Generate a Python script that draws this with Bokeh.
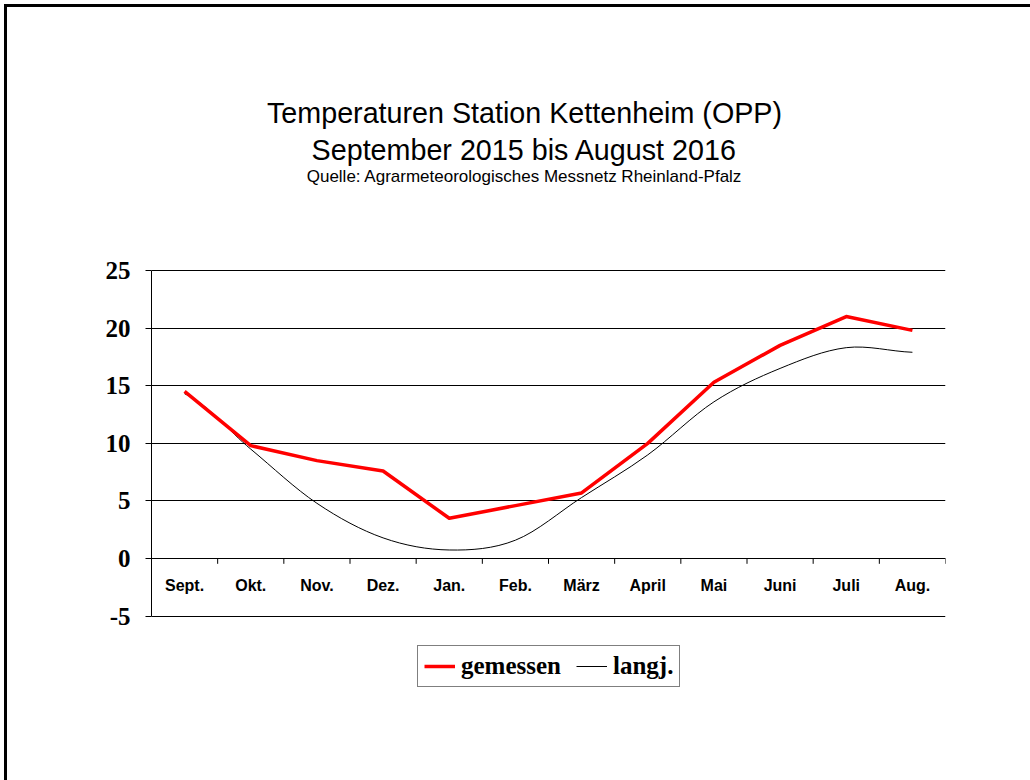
from bokeh.plotting import figure
from bokeh.models import FactorRange, Range1d, FixedTicker, Label, Legend, LegendItem, ColumnDataSource
from bokeh.transform import dodge
from bokeh.embed import file_html
from bokeh.resources import INLINE

# ---- data ----
months = ["Sept.", "Okt.", "Nov.", "Dez.", "Jan.", "Feb.", "März",
          "April", "Mai", "Juni", "Juli", "Aug."]
gemessen = [14.5, 9.8, 8.5, 7.6, 3.5, 4.6, 5.7, 10.0, 15.3, 18.5, 21.0, 19.8]
langj = [14.3, 9.5, 4.8, 1.8, 0.75, 1.6, 5.3, 9.0, 13.6, 16.5, 18.3, 17.9]
y_ticks = [-5, 0, 5, 10, 15, 20, 25]
y_tick_labels = {-5: "-5"}
title_1 = "Temperaturen Station Kettenheim (OPP)"
title_2 = "September 2015 bis August 2016"
title_3 = "Quelle: Agrarmeteorologisches Messnetz Rheinland-Pfalz"
series_names = ["gemessen", "langj."]

# frame spans the plotting columns horizontally and a taller band vertically,
# so that the titles and legend (drawn inside it) are not clipped
p = figure(
    x_range=FactorRange(factors=months, range_padding=0, factor_padding=0),
    y_range=Range1d(-13, 40),
    frame_width=794, frame_height=611,
    min_border_left=144, min_border_top=90,
    min_border_right=85, min_border_bottom=72,
    output_backend="svg", toolbar_location=None,
    background_fill_color="white", border_fill_color="white",
    outline_line_color=None,
    styles={"margin-left": "4px", "margin-top": "4px",
            "border-left": "3px solid black", "border-top": "3px solid black"},
)

# axes
p.xaxis.fixed_location = 0
p.xaxis.major_tick_line_color = None
p.xaxis.axis_line_color = "black"
p.xaxis.major_label_text_font = "Liberation Sans"
p.xaxis.major_label_text_font_style = "bold"
p.xaxis.major_label_text_font_size = "16px"
p.xaxis.major_label_text_color = "black"
p.xaxis.major_label_standoff = 12
p.xgrid.visible = False

p.yaxis.ticker = FixedTicker(ticks=y_ticks)
p.yaxis.bounds = (y_ticks[0], y_ticks[-1])
p.yaxis.major_label_overrides = y_tick_labels
p.yaxis.minor_tick_line_color = None
p.yaxis.major_tick_in = 0
p.yaxis.major_tick_out = 6
p.yaxis.axis_line_color = "black"
p.yaxis.major_tick_line_color = "black"
p.yaxis.major_label_text_font = "Liberation Serif"
p.yaxis.major_label_text_font_style = "bold"
p.yaxis.major_label_text_font_size = "25px"
p.yaxis.major_label_text_color = "black"
p.yaxis.major_label_standoff = 15
p.ygrid.ticker = FixedTicker(ticks=y_ticks)
p.ygrid.grid_line_color = "black"
p.ygrid.grid_line_width = 1

# boundary tick marks on the zero line
tick_src = ColumnDataSource(dict(m=months))
p.segment(x0=dodge("m", 0.5, range=p.x_range), y0=0,
          x1=dodge("m", 0.5, range=p.x_range), y1=-0.45,
          source=tick_src, line_color="black", line_width=1)

# smoothed long-term line (cubic Bezier through the data points)
n = len(langj)
bez = ColumnDataSource(dict(
    x0=months[:-1], x1=months[1:],
    y0=langj[:-1], y1=langj[1:],
    cy0=[langj[i] + (langj[i + 1] - langj[max(i - 1, 0)]) / 6 for i in range(n - 1)],
    cy1=[langj[i + 1] - (langj[min(i + 2, n - 1)] - langj[i]) / 6 for i in range(n - 1)],
))
r_langj = p.bezier(x0="x0", y0="y0", x1="x1", y1="y1",
                   cx0=dodge("x0", 1 / 3, range=p.x_range), cy0="cy0",
                   cx1=dodge("x1", -1 / 3, range=p.x_range), cy1="cy1",
                   source=bez, line_color="black", line_width=1)

# measured line
r_gem = p.line(x=months, y=gemessen, line_color="#ff0000", line_width=3.5,
               line_join="round")

legend = Legend(
    items=[LegendItem(label=series_names[0], renderers=[r_gem]),
           LegendItem(label=series_names[1], renderers=[r_langj])],
    location=(266, 21), orientation="horizontal",
    label_text_font="Liberation Serif", label_text_font_style="bold",
    label_text_font_size="25px", label_text_color="black",
    glyph_width=31, glyph_height=24, label_height=24,
    label_standoff=6, spacing=15, padding=6, margin=0,
    border_line_color="black", border_line_width=1,
    background_fill_color="white", background_fill_alpha=1,
)
p.add_layout(legend)

# titles (screen units relative to plot frame bottom-left)
for txt, y, size in [(title_1, 596, "28.7px"), (title_2, 559, "28.7px"), (title_3, 532, "17px")]:
    p.add_layout(Label(x=373, y=y, x_units="screen", y_units="screen", text=txt,
                       text_align="center", text_baseline="alphabetic",
                       text_font="Liberation Sans", text_font_size=size,
                       text_color="black"))

open("out.html", "w").write(file_html(p, INLINE))
